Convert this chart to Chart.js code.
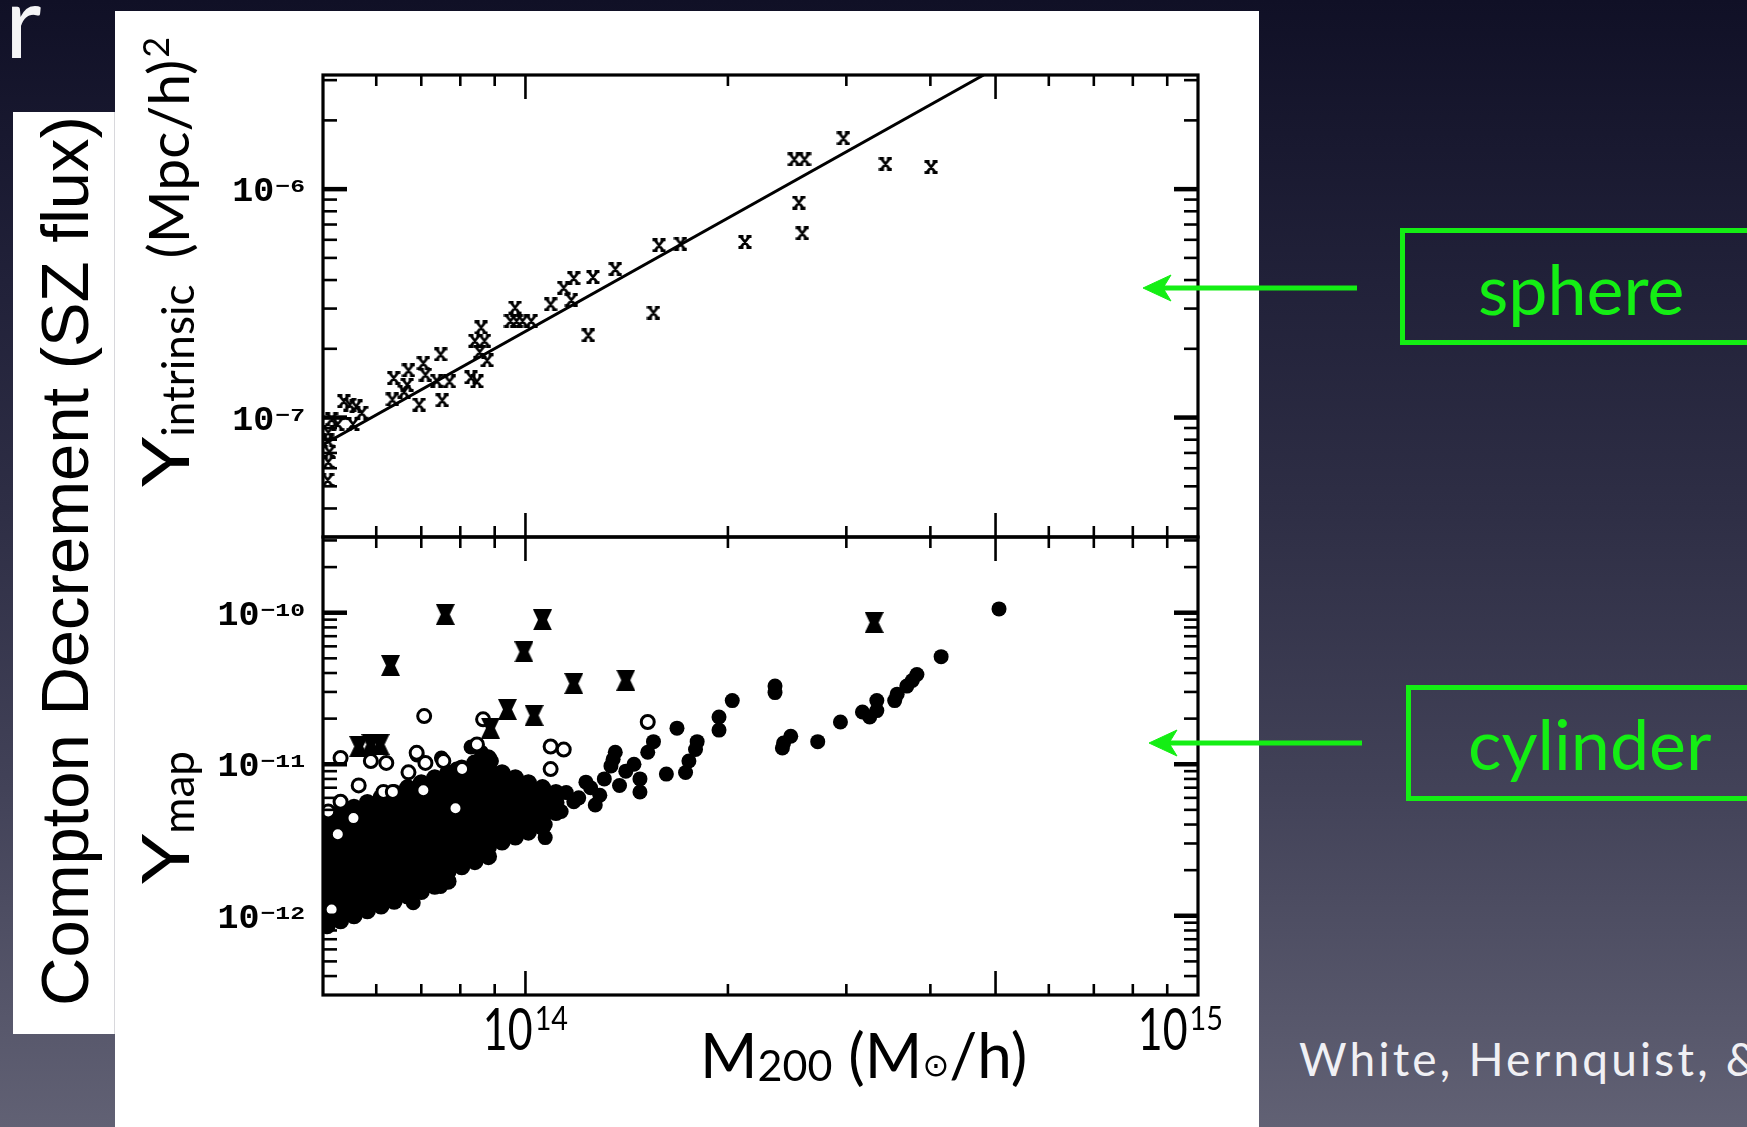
<!DOCTYPE html>
<html lang="en">
<head>
<meta charset="utf-8">
<title>Compton decrement vs cluster mass</title>
<script src="https://cdn.jsdelivr.net/npm/chart.js@4.4.1/dist/chart.umd.min.js"></script>
<style>
  html, body { margin: 0; padding: 0; }
  body {
    width: 1747px; height: 1127px; overflow: hidden; position: relative;
    background: linear-gradient(180deg, #101026 0%, #212139 25%, #2e2e45 45%, #424258 70%, #616174 100%);
    font-family: Lato, "Open Sans", sans-serif;
  }
  .abs { position: absolute; white-space: nowrap; }
  #slideTitle { left: 5px; top: -31px; font-size: 100px; line-height: 100px; color: #f4f4f6; }
  #panel { left: 115px; top: 11px; width: 1144px; height: 1116px; background: #fff; }
  #labelBox { left: 13px; top: 112px; width: 101px; height: 922px; background: #fff; border-right: 1px solid #d8d8dc; }
  canvas { position: absolute; left: 115px; top: 11px; }
  .vlabel { transform-origin: 0 0; transform: rotate(-90deg); color: #000; }
  #compton { left: 31px; top: 1006px; font: 67px/67px "Liberation Sans", Arial, sans-serif; }
  .ytitle { left: 131px; font-size: 66px; line-height: 66px; }
  #yTopTitle { top: 487px; }
  #yBotTitle { top: 884px; }
  .bigY { display: inline-block; transform: scaleX(1.22); transform-origin: 0 0; margin-right: 9px; }
  .sub { font-size: 44px; line-height: 0; vertical-align: -5px; }
  .unit { font-size: 57px; margin-left: 26px; }
  .sq { font-size: 36px; line-height: 0; vertical-align: 20px; margin-left: 2px; }
  #xTitle { left: 700px; top: 1023px; font-size: 62px; line-height: 62px; color: #000; }
  #xTitle .num { font-size: 43px; vertical-align: -3px; }
  #xTitle .sun { font-size: 32px; vertical-align: 2px; font-family: "DejaVu Sans", sans-serif; }
  .gbox { border: 5px solid #14ee14; box-sizing: border-box; width: 420px; }
  #sphereBox { left: 1400px; top: 228px; height: 117px; }
  #cylBox { left: 1406px; top: 685px; height: 116px; }
  .gtext { color: #14ee14; font-size: 70px; line-height: 70px; }
  #sphereText { left: 1478px; top: 253px; }
  #cylText { left: 1468px; top: 708px; }
  #cite { left: 1299px; top: 1036px; font-size: 46px; line-height: 46px; letter-spacing: 3.2px; color: #f0f0f4; }
  svg { position: absolute; left: 0; top: 0; }
</style>
</head>
<body>
<div id="slideTitle" class="abs">r</div>
<div id="panel" class="abs"></div>
<div id="labelBox" class="abs"></div>
<div id="compton" class="abs vlabel">Compton Decrement (SZ flux)</div>
<canvas id="sphereChart" width="1144" height="1116"></canvas>
<canvas id="mapChart" width="1144" height="1116"></canvas>
<div id="yTopTitle" class="abs vlabel ytitle"><span class="bigY">Y</span><span class="sub">intrinsic</span><span class="unit">(Mpc/h)</span><span class="sq">2</span></div>
<div id="yBotTitle" class="abs vlabel ytitle"><span class="bigY">Y</span><span class="sub">map</span></div>
<div id="xTitle" class="abs">M<span class="num">200</span> (M<span class="sun">⊙</span>/h)</div>
<div id="sphereBox" class="abs gbox"></div>
<div id="sphereText" class="abs gtext">sphere</div>
<div id="cylBox" class="abs gbox"></div>
<div id="cylText" class="abs gtext">cylinder</div>
<div id="cite" class="abs">White, Hernquist, &amp; Springel</div>
<svg width="1747" height="1127">
  <g fill="#14ee14" stroke="#14ee14">
    <line x1="1357" y1="288" x2="1160" y2="288" stroke-width="5"/>
    <polygon points="1143,288 1171,275 1163,288 1171,301" stroke-width="1"/>
    <line x1="1362" y1="743" x2="1166" y2="743" stroke-width="5"/>
    <polygon points="1149,743 1177,730 1169,743 1177,756" stroke-width="1"/>
  </g>
</svg>
<script>
// mass axis (shared by both panels)
const massMin = 5e13;
const massMax = 1e15;
const massTicks = [6e13, 7e13, 8e13, 9e13, 1e14, 2e14, 3e14, 4e14, 5e14, 6e14, 7e14, 8e14, 9e14];
const massMajor = [1e14, 5e14];
const massLabelValues = [1e14, 1e15];
const massLabelExps = ['14', '15'];

// upper panel: Y inside a sphere
const sphereYMin = 3.16e-8;
const sphereYMax = 3.16e-6;
const sphereYTicks = [4e-8, 5e-8, 6e-8, 7e-8, 8e-8, 9e-8, 1e-7, 2e-7, 3e-7, 4e-7, 5e-7, 6e-7, 7e-7, 8e-7, 9e-7, 1e-6, 2e-6, 3e-6];
const sphereYMajor = [1e-7, 1e-6];
const sphereLabelValues = [1e-7, 1e-6];
const sphereLabelExps = ['\u22127', '\u22126'];

const sphereMass = [2.97e14, 2.51e14, 2.60e14, 3.43e14, 4.01e14, 2.55e14, 2.58e14, 2.12e14, 1.58e14, 1.70e14,
  1.36e14, 1.26e14, 1.18e14, 1.14e14, 1.17e14, 1.09e14, 1.55e14, 1.24e14, 9.65e13, 9.5e13,
  9.7e13, 9.9e13, 1.02e14, 8.59e13, 8.41e13, 8.69e13, 8.55e13, 8.77e13, 7.48e13, 7.05e13,
  6.70e13, 6.37e13, 7.10e13, 6.67e13, 6.60e13, 7.38e13, 7.71e13, 8.30e13, 8.47e13, 6.34e13,
  6.95e13, 7.52e13, 5.37e13, 5.48e13, 5.60e13, 5.71e13, 5.15e13, 5.26e13, 5.54e13, 5.09e13,
  5.08e13, 5.09e13, 5.08e13, 5.11e13];
const sphereY = [1.67e-6, 1.35e-6, 1.35e-6, 1.29e-6, 1.25e-6, 8.73e-7, 6.41e-7, 5.87e-7, 5.68e-7, 5.77e-7,
  4.47e-7, 4.12e-7, 4.08e-7, 3.70e-7, 3.27e-7, 3.13e-7, 2.88e-7, 2.29e-7, 3.03e-7, 2.65e-7,
  2.65e-7, 2.65e-7, 2.65e-7, 2.48e-7, 2.17e-7, 2.17e-7, 1.94e-7, 1.78e-7, 1.89e-7, 1.73e-7,
  1.61e-7, 1.49e-7, 1.54e-7, 1.39e-7, 1.30e-7, 1.45e-7, 1.44e-7, 1.50e-7, 1.44e-7, 1.20e-7,
  1.14e-7, 1.19e-7, 1.18e-7, 1.14e-7, 1.12e-7, 1.05e-7, 9.84e-8, 9.36e-8, 9.36e-8, 8.61e-8,
  7.94e-8, 6.40e-8, 5.33e-8, 7.06e-8];
// power-law fit, end points
const fitMass = [5e13, 4.8e14];
const fitY = [7.6e-8, 3.16e-6];

// lower panel: Y from the projected maps
const mapYMin = 3.16e-13;
const mapYMax = 3.16e-10;
const mapYTicks = [4e-13, 5e-13, 6e-13, 7e-13, 8e-13, 9e-13, 1e-12, 2e-12, 3e-12, 4e-12, 5e-12, 6e-12, 7e-12, 8e-12, 9e-12,
  1e-11, 2e-11, 3e-11, 4e-11, 5e-11, 6e-11, 7e-11, 8e-11, 9e-11, 1e-10, 2e-10, 3e-10];
const mapYMajor = [1e-12, 1e-11, 1e-10];
const mapLabelValues = [1e-12, 1e-11, 1e-10];
const mapLabelExps = ['\u221212', '\u221211', '\u221210'];

// dense group of low-mass haloes, one column per mass
const cloudMass = [5.07e13, 5.31e13, 5.56e13, 5.82e13, 6.10e13, 6.38e13, 6.68e13, 7.00e13, 7.33e13,
  7.67e13, 8.04e13, 8.41e13, 8.81e13, 9.23e13, 9.66e13, 1.01e14, 1.06e14, 1.11e14];
const cloudY = [
  [4.47e-12, 3.85e-12, 3.31e-12, 2.85e-12, 2.46e-12, 2.11e-12, 1.82e-12, 1.57e-12, 1.35e-12, 1.16e-12, 1.00e-12, 8.6e-13],
  [4.81e-12, 4.15e-12, 3.57e-12, 3.07e-12, 2.65e-12, 2.28e-12, 1.96e-12, 1.69e-12, 1.45e-12, 1.25e-12, 1.08e-12, 9.3e-13],
  [5.19e-12, 4.47e-12, 3.85e-12, 3.31e-12, 2.85e-12, 2.46e-12, 2.11e-12, 1.82e-12, 1.57e-12, 1.35e-12, 1.16e-12, 1.00e-12],
  [5.59e-12, 4.81e-12, 4.15e-12, 3.57e-12, 3.07e-12, 2.65e-12, 2.28e-12, 1.96e-12, 1.69e-12, 1.45e-12, 1.25e-12, 1.08e-12],
  [6.03e-12, 5.19e-12, 4.47e-12, 3.85e-12, 3.31e-12, 2.85e-12, 2.46e-12, 2.11e-12, 1.82e-12, 1.57e-12, 1.35e-12, 1.16e-12],
  [6.49e-12, 5.59e-12, 4.81e-12, 4.15e-12, 3.57e-12, 3.07e-12, 2.65e-12, 2.28e-12, 1.96e-12, 1.69e-12, 1.45e-12, 1.25e-12],
  [7.00e-12, 6.03e-12, 5.19e-12, 4.47e-12, 3.85e-12, 3.31e-12, 2.85e-12, 2.46e-12, 2.11e-12, 1.82e-12, 1.57e-12, 1.35e-12],
  [7.54e-12, 6.49e-12, 5.59e-12, 4.81e-12, 4.15e-12, 3.57e-12, 3.07e-12, 2.65e-12, 2.28e-12, 1.96e-12, 1.69e-12, 1.45e-12],
  [8.13e-12, 7.00e-12, 6.03e-12, 5.19e-12, 4.47e-12, 3.85e-12, 3.31e-12, 2.85e-12, 2.46e-12, 2.11e-12, 1.82e-12, 1.57e-12],
  [8.76e-12, 7.54e-12, 6.49e-12, 5.59e-12, 4.81e-12, 4.15e-12, 3.57e-12, 3.07e-12, 2.65e-12, 2.28e-12, 1.96e-12, 1.69e-12],
  [9.44e-12, 8.13e-12, 7.00e-12, 6.03e-12, 5.19e-12, 4.47e-12, 3.85e-12, 3.31e-12, 2.85e-12, 2.46e-12, 2.11e-12],
  [1.02e-11, 8.76e-12, 7.54e-12, 6.49e-12, 5.59e-12, 4.81e-12, 4.15e-12, 3.57e-12, 3.07e-12, 2.65e-12, 2.28e-12],
  [1.10e-11, 9.44e-12, 8.13e-12, 7.00e-12, 6.03e-12, 5.19e-12, 4.47e-12, 3.85e-12, 3.31e-12, 2.85e-12, 2.46e-12],
  [8.76e-12, 7.54e-12, 6.49e-12, 5.59e-12, 4.81e-12, 4.15e-12, 3.57e-12, 3.07e-12],
  [8.13e-12, 7.00e-12, 6.03e-12, 5.19e-12, 4.47e-12, 3.85e-12, 3.31e-12],
  [7.54e-12, 6.49e-12, 5.59e-12, 4.81e-12, 4.15e-12, 3.57e-12],
  [7.00e-12, 6.03e-12, 5.19e-12, 4.47e-12, 3.85e-12],
  [6.49e-12, 5.59e-12, 4.81e-12]
];
// remaining filled points
const filledMass = [5.06e14, 4.15e14, 3.82e14, 3.76e14, 3.69e14, 3.57e14, 3.54e14, 3.33e14, 3.33e14, 3.17e14,
  3.25e14, 2.94e14, 2.72e14, 2.48e14, 2.42e14, 2.41e14, 2.35e14, 2.35e14, 2.03e14, 1.94e14,
  1.94e14, 1.80e14, 1.79e14, 1.75e14, 1.73e14, 1.62e14, 1.68e14, 1.55e14, 1.52e14, 1.48e14,
  1.48e14, 1.45e14, 1.41e14, 1.38e14, 1.36e14, 1.35e14, 1.34e14, 1.31e14, 1.29e14, 1.25e14,
  1.23e14, 1.27e14, 1.20e14, 1.18e14, 1.15e14, 1.13e14, 1.07e14, 1.07e14, 1.01e14, 6.81e13,
  7.48e13, 6.9e13, 7.5e13, 8.6e13, 8.9e13, 7.9e13, 8.3e13];
const filledY = [1.06e-10, 5.13e-11, 3.91e-11, 3.57e-11, 3.28e-11, 2.90e-11, 2.63e-11, 2.63e-11, 2.26e-11, 2.21e-11,
  2.05e-11, 1.90e-11, 1.41e-11, 1.53e-11, 1.38e-11, 1.28e-11, 3.28e-11, 2.97e-11, 2.63e-11, 2.05e-11,
  1.68e-11, 1.41e-11, 1.25e-11, 1.05e-11, 8.83e-12, 8.61e-12, 1.73e-11, 1.41e-11, 1.2e-11, 8.0e-12,
  6.56e-12, 1.0e-11, 9.0e-12, 7.24e-12, 1.2e-11, 1.08e-11, 9.75e-12, 8.0e-12, 6.24e-12, 7.0e-12,
  7.62e-12, 5.38e-12, 6.0e-12, 5.66e-12, 6.5e-12, 4.88e-12, 3.28e-12, 4.0e-12, 7.62e-12, 1.22e-12,
  1.56e-12, 1.15e-11, 1.1e-11, 1.2e-11, 1.05e-11, 9.3e-12, 1.3e-11];
const openMass = [7.07e13, 8.65e13, 1.52e14, 8.47e13, 1.09e14, 1.14e14, 5.31e13, 6.89e13, 5.89e13, 6.21e13,
  7.10e13, 7.55e13, 1.09e14, 5.31e13, 5.65e13, 6.15e13, 6.35e13, 7.05e13, 6.70e13, 5.09e13,
  5.55e13, 7.87e13, 8.05e13, 5.15e13, 5.26e13];
const openY = [2.08e-11, 1.98e-11, 1.90e-11, 1.35e-11, 1.31e-11, 1.25e-11, 1.10e-11, 1.19e-11, 1.05e-11, 1.02e-11,
  1.02e-11, 1.05e-11, 9.29e-12, 5.66e-12, 7.25e-12, 6.57e-12, 6.57e-12, 6.73e-12, 8.84e-12, 4.88e-12,
  4.41e-12, 5.13e-12, 9.29e-12, 1.10e-12, 3.45e-12];
const starMass = [7.60e13, 1.06e14, 3.30e14, 6.30e13, 9.95e13, 1.18e14, 1.41e14, 9.40e13, 1.03e14, 8.87e13,
  5.89e13, 6.08e13, 5.65e13];
const starY = [9.75e-11, 8.97e-11, 8.62e-11, 4.48e-11, 5.52e-11, 3.41e-11, 3.59e-11, 2.30e-11, 2.10e-11, 1.73e-11,
  1.35e-11, 1.35e-11, 1.31e-11];

const pairs = (xs, ys) => xs.map((v, i) => ({ x: v, y: ys[i] }));

function markerCanvas(w, h, paint) {
  const c = document.createElement('canvas');
  c.width = w;
  c.height = h;
  paint(c.getContext('2d'), w, h);
  return c;
}

// small serifed "x" used for the sphere values
const xMark = markerCanvas(14, 14, (g, w, h) => {
  g.strokeStyle = '#000';
  g.lineWidth = 2.8;
  g.beginPath();
  g.moveTo(3, 2); g.lineTo(w - 3, h - 2);
  g.moveTo(w - 3, 2); g.lineTo(3, h - 2);
  g.moveTo(0.5, 1.5); g.lineTo(5.5, 1.5);
  g.moveTo(w - 5.5, 1.5); g.lineTo(w - 0.5, 1.5);
  g.moveTo(0.5, h - 1.5); g.lineTo(5.5, h - 1.5);
  g.moveTo(w - 5.5, h - 1.5); g.lineTo(w - 0.5, h - 1.5);
  g.stroke();
});

// notched block for the bright outliers in the map panel
const starMark = markerCanvas(19, 21, (g, w, h) => {
  g.fillStyle = '#000';
  g.beginPath();
  g.moveTo(0, 0); g.lineTo(w, 0); g.lineTo(w - 5, h / 2);
  g.lineTo(w, h); g.lineTo(0, h); g.lineTo(5, h / 2);
  g.closePath();
  g.fill();
});

const monoFont = '"Liberation Mono", "DejaVu Sans Mono", monospace';

// box, inward ticks and tick labels drawn from the chart's own scales
function frameTicks(cfg) {
  return {
    id: 'frameTicks',
    afterDatasetsDraw(chart) {
      const { ctx, chartArea: a } = chart;
      const x = chart.scales.x;
      const y = chart.scales.y;
      const seg = (x1, y1, x2, y2, w) => {
        ctx.lineWidth = w;
        ctx.beginPath();
        ctx.moveTo(x1, y1);
        ctx.lineTo(x2, y2);
        ctx.stroke();
      };
      ctx.save();
      ctx.strokeStyle = '#000';
      ctx.fillStyle = '#000';

      massTicks.forEach(v => {
        const px = x.getPixelForValue(v);
        const len = massMajor.includes(v) ? 24 : 11;
        seg(px, a.top, px, a.top + len, 2.6);
        seg(px, a.bottom, px, a.bottom - len, 2.6);
      });

      cfg.yTicks.forEach(v => {
        const py = y.getPixelForValue(v);
        const major = cfg.yMajor.includes(v);
        const len = major ? 24 : 14;
        seg(a.left, py, a.left + len, py, major ? 4.5 : 2.6);
        seg(a.right, py, a.right - len, py, major ? 4.5 : 2.6);
      });

      ctx.lineWidth = 3.2;
      ctx.strokeRect(a.left, a.top, a.right - a.left, a.bottom - a.top);

      // 10^n labels on the left axis
      cfg.labelValues.forEach((v, i) => {
        const py = y.getPixelForValue(v);
        ctx.font = 'bold 35px ' + monoFont;
        const bw = ctx.measureText('10').width;
        ctx.font = 'bold 19px ' + monoFont;
        const ew = ctx.measureText(cfg.labelExps[i]).width * 1.3;
        const x0 = a.left - 19 - ew - bw;
        ctx.font = 'bold 35px ' + monoFont;
        ctx.fillText('10', x0, py + 12);
        ctx.save();
        ctx.translate(x0 + bw + 1, py + 3);
        ctx.scale(1.3, 1);
        ctx.font = 'bold 19px ' + monoFont;
        ctx.fillText(cfg.labelExps[i], 0, 0);
        ctx.restore();
      });

      // mass labels under the lower panel
      if (cfg.massLabels) {
        massLabelValues.forEach((v, i) => {
          const px = x.getPixelForValue(v);
          ctx.font = '58px Lato, sans-serif';
          const bw = ctx.measureText('10').width * 0.74;
          ctx.font = '32px Lato, sans-serif';
          const ew = ctx.measureText(massLabelExps[i]).width * 0.9;
          const total = bw + ew + 2;
          const left = Math.min(px - total / 2, a.right + 25 - total);
          ctx.save();
          ctx.translate(left, a.bottom + 55);
          ctx.scale(0.74, 1);
          ctx.font = '58px Lato, sans-serif';
          ctx.fillText('10', 0, 0);
          ctx.restore();
          ctx.save();
          ctx.translate(left + bw + 2, a.bottom + 35);
          ctx.scale(0.9, 1);
          ctx.font = '32px Lato, sans-serif';
          ctx.fillText(massLabelExps[i], 0, 0);
          ctx.restore();
        });
      }
      ctx.restore();
    }
  };
}

function panelOptions(padTop, padBottom, yMin, yMax) {
  return {
    responsive: false,
    animation: false,
    events: [],
    layout: { padding: { left: 208, right: 61, top: padTop, bottom: padBottom } },
    plugins: { legend: { display: false }, tooltip: { enabled: false } },
    scales: {
      x: { type: 'logarithmic', min: massMin, max: massMax, display: false },
      y: { type: 'logarithmic', min: yMin, max: yMax, display: false }
    }
  };
}

new Chart(document.getElementById('sphereChart'), {
  type: 'scatter',
  data: {
    datasets: [
      {
        label: 'fit',
        data: pairs(fitMass, fitY),
        showLine: true,
        borderColor: '#000',
        borderWidth: 3,
        pointRadius: 0,
        clip: 0,
        order: 2
      },
      {
        label: 'sphere',
        data: pairs(sphereMass, sphereY),
        pointStyle: xMark,
        pointRadius: 6,
        clip: 0,
        order: 1
      }
    ]
  },
  options: panelOptions(64, 590, sphereYMin, sphereYMax),
  plugins: [frameTicks({
    yTicks: sphereYTicks, yMajor: sphereYMajor,
    labelValues: sphereLabelValues, labelExps: sphereLabelExps,
    massLabels: false
  })]
});

const cloudPoints = cloudMass.flatMap((m, i) => cloudY[i].map(v => ({ x: m, y: v })));

new Chart(document.getElementById('mapChart'), {
  type: 'scatter',
  data: {
    datasets: [
      {
        label: 'filled (dense)',
        data: cloudPoints,
        pointStyle: 'circle',
        pointRadius: 8.6,
        backgroundColor: '#000',
        borderWidth: 0,
        clip: 0,
        order: 4
      },
      {
        label: 'filled',
        data: pairs(filledMass, filledY),
        pointStyle: 'circle',
        pointRadius: 7.5,
        backgroundColor: '#000',
        borderWidth: 0,
        clip: 0,
        order: 3
      },
      {
        label: 'open',
        data: pairs(openMass, openY),
        pointStyle: 'circle',
        pointRadius: 6.5,
        backgroundColor: '#fff',
        borderColor: '#000',
        borderWidth: 3,
        clip: 0,
        order: 2
      },
      {
        label: 'outliers',
        data: pairs(starMass, starY),
        pointStyle: starMark,
        pointRadius: 9,
        clip: 0,
        order: 1
      }
    ]
  },
  options: panelOptions(526, 132, mapYMin, mapYMax),
  plugins: [frameTicks({
    yTicks: mapYTicks, yMajor: mapYMajor,
    labelValues: mapLabelValues, labelExps: mapLabelExps,
    massLabels: true
  })]
});
</script>
</body>
</html>
